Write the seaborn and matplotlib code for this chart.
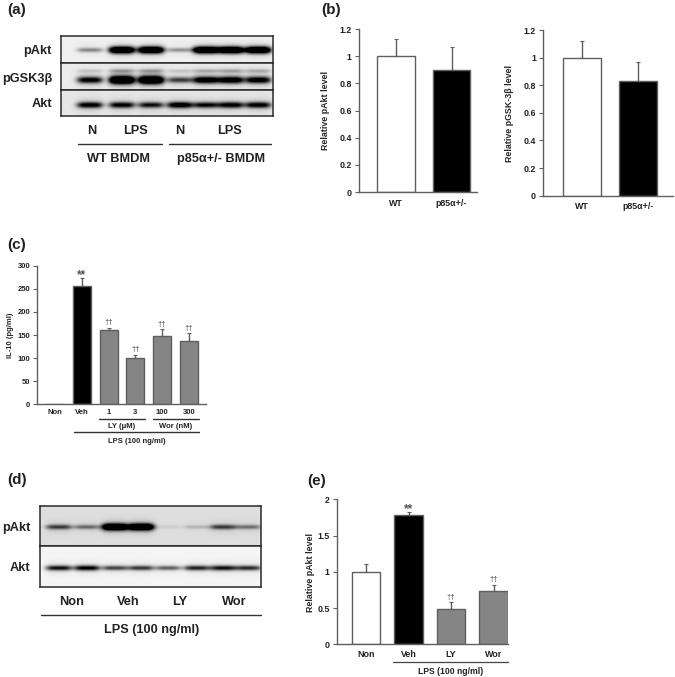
import numpy as np
import pandas as pd
import matplotlib
matplotlib.use("Agg")
import matplotlib.pyplot as plt
from matplotlib.lines import Line2D
import seaborn as sns

W, H = 675, 677
INK = "#222222"
EDGE = "#5f5f5f"
GREY = "#858585"

# bar panel data
b_names = ["WT", "p85α+/-"]
pakt_vals = [1.0, 0.90]
pakt_errs = [0.13, 0.17]
pgsk_vals = [1.0, 0.83]
pgsk_errs = [0.12, 0.135]
b_colors = ["white", "black"]

c_names = ["Non", "Veh", "1", "3", "100", "300"]
c_vals = [0, 255, 160, 101, 148, 138]
c_errs = [0, 19, 6, 6, 14, 16]
c_marks = ["", "**", "††", "††", "††", "††"]
c_colors = ["white", "black", GREY, GREY, GREY, GREY]

e_names = ["Non", "Veh", "LY", "Wor"]
e_vals = [1.0, 1.78, 0.49, 0.74]
e_errs = [0.11, 0.05, 0.09, 0.08]
e_marks = ["", "**", "††", "††"]
e_colors = ["white", "black", GREY, GREY]

# blot band strengths per lane
a_lanes = [90, 122, 151, 180, 206, 231, 258]
a_pakt = [0.25, 1.0, 1.0, 0.22, 1.0, 1.0, 1.0]
a_pgsk = [0.6, 1.0, 1.0, 0.42, 0.7, 0.7, 0.65]
a_pgsk_upper = [0.08, 0.18, 0.18, 0.08, 0.14, 0.16, 0.14]
a_akt = [0.6, 0.58, 0.52, 0.65, 0.55, 0.6, 0.6]

d_lanes = [59, 87, 115, 141, 168, 197, 223, 248]
d_pakt = [0.4, 0.28, 1.0, 1.0, 0.04, 0.1, 0.4, 0.27]
d_akt = [0.55, 0.6, 0.42, 0.45, 0.35, 0.5, 0.55, 0.48]

sns.set_theme(style="ticks")
plt.rcParams["font.family"] = ["Liberation Sans", "DejaVu Sans"]
plt.rcParams["font.weight"] = "bold"
plt.rcParams["text.color"] = INK
plt.rcParams["xtick.labelcolor"] = INK
plt.rcParams["ytick.labelcolor"] = INK

fig = plt.figure(figsize=(W / 100, H / 100), dpi=100)


def axes_px(x0, y0, x1, y1):
    # y0 is the top of the box, all in reference pixels
    return fig.add_axes([x0 / W, 1 - y1 / H, (x1 - x0) / W, (y1 - y0) / H])


def label(x, y, s, size, **kw):
    kw.setdefault("ha", "center")
    fig.text(x / W, 1 - y / H, s, fontsize=size, va="center", **kw)


def rule(x0, x1, y, color="#333333", lw=1.0):
    fig.add_artist(Line2D([x0 / W, x1 / W], [1 - y / H, 1 - y / H], color=color, lw=lw))


def bars(box, first, step, names, vals, errs, colors, ymax, ticks, size, pad, ylab, ylab_xy, marks=None):
    left, top, right, bottom = box
    ax = axes_px(left, top, right, bottom)
    df = pd.DataFrame({"name": names, "val": vals})
    sns.barplot(data=df, x="name", y="val", hue="name", palette=colors, legend=False,
                width=0.67, edgecolor=EDGE, linewidth=1.0, errorbar=None, ax=ax)
    pos = np.arange(len(vals))
    keep = np.array(errs) > 0
    ax.errorbar(pos[keep], np.array(vals)[keep], yerr=[np.zeros(keep.sum()), np.array(errs)[keep]],
                fmt="none", ecolor=EDGE, elinewidth=1.0, capsize=1.3, capthick=0.8)
    ax.set_xlim((left - first) / step, (right - first) / step)
    ax.set_ylim(0, ymax)
    ax.set_yticks(ticks[0])
    ax.set_yticklabels(ticks[1], fontsize=size)
    ax.tick_params(axis="y", length=3, width=0.8, color=EDGE, pad=2)
    ax.tick_params(axis="x", length=0, pad=pad, labelsize=size)
    ax.set_xlabel("")
    ax.set_ylabel(ylab, fontsize=size, va="center", fontweight="bold")
    ax.yaxis.set_label_coords((ylab_xy[0] - left) / (right - left), (bottom - ylab_xy[1]) / (bottom - top))
    for s in ["top", "right"]:
        ax.spines[s].set_visible(False)
    for s in ["left", "bottom"]:
        ax.spines[s].set_color(EDGE)
        ax.spines[s].set_linewidth(1.0)
    if marks:
        for i, m in enumerate(marks):
            if m == "**":
                # the asterisks sit high in the glyph box, so they need less room
                ax.annotate(m, (i, vals[i] + errs[i]), xytext=(0, -2.5), textcoords="offset points",
                            ha="center", va="bottom", fontsize=8.5, color="#555555")
            elif m:
                ax.annotate(m, (i, vals[i] + errs[i]), xytext=(0, 1), textcoords="offset points",
                            ha="center", va="bottom", fontsize=5.5, fontweight="normal", color="#444444")
    return ax


def blot_row(box, lanes, groups, bg, half=13):
    # groups: (strengths, band y in px, thickness in px)
    left, top, right, bottom = box
    xs = np.arange(left, right) + 0.5
    ys = np.arange(top, bottom) + 0.5
    dark = np.zeros((len(ys), len(xs)))
    for strengths, yc, thick in groups:
        for lane, s in zip(lanes, strengths):
            across = np.exp(-((xs - lane) / half) ** 4)
            core = np.exp(-((ys - yc) / (thick * (0.6 + 0.5 * s))) ** 2)
            halo = np.exp(-((ys - yc) / (thick * 2.2)) ** 2)
            dark += s * np.outer(1.5 * core + 0.18 * halo, across)
    img = np.clip(bg - np.clip(dark, 0, 0.97), 0, 1)
    ax = axes_px(left, top, right, bottom)
    sns.heatmap(img, cmap="gray", vmin=0, vmax=1, cbar=False, xticklabels=False, yticklabels=False, ax=ax)
    for s in ax.spines.values():
        s.set_visible(True)
        s.set_color("#2a2a2a")
        s.set_linewidth(1.1)
    return ax


# panel letters
for x, y, s in [(17, 10, "(a)"), (331, 10, "(b)"), (17, 245, "(c)"), (17, 480, "(d)"), (317, 481, "(e)")]:
    label(x, y, s, 11)

# (a) blot
blot_row((61, 36, 273, 63), a_lanes, [(a_pakt, 50, 3)], 0.94)
blot_row((61, 63, 273, 90), a_lanes, [(a_pgsk_upper, 71, 3), (a_pgsk, 80, 3.6)], 0.92)
blot_row((61, 90, 273, 116), a_lanes, [(a_akt, 105, 3.3)], 0.9)
for y, s in [(51, "pAkt"), (79, "pGSK3β"), (104, "Akt")]:
    label(52, y, s, 9.2, ha="right")
for x, s in [(92, "N"), (136, "LPS"), (180, "N"), (230, "LPS")]:
    label(x, 131, s, 9.2)
rule(78, 162, 144)
rule(169, 271, 144)
label(119, 159, "WT BMDM", 9.2)
label(221, 159, "p85α+/- BMDM", 9.2)

# (b) bars
ticks_b = ([0, 0.2, 0.4, 0.6, 0.8, 1, 1.2], ["0", "0.2", "0.4", "0.6", "0.8", "1", "1.2"])
bars((358.7, 29, 477, 192), 396, 55.5, b_names, pakt_vals, pakt_errs, b_colors, 1.2, ticks_b, 6.4, 4.7,
     "Relative pAkt level", (325, 110))
bars((543, 30, 673, 195.7), 582, 56, b_names, pgsk_vals, pgsk_errs, b_colors, 1.2, ticks_b, 6.4, 4.7,
     "Relative pGSK-3β level", (510, 113))

# (c) bars
ticks_c = ([0, 50, 100, 150, 200, 250, 300], ["0", "50", "100", "150", "200", "250", "300"])
bars((37.3, 265.7, 206, 404.3), 55, 26.8, c_names, c_vals, c_errs, c_colors, 300, ticks_c, 5.5, 3.6,
     "IL-10 (pg/ml)", (10, 335), c_marks)
rule(99, 145, 418.7)
rule(153, 199, 418.7)
label(122, 426.7, "LY (μM)", 5.5)
label(176, 426.7, "Wor (nM)", 5.5)
rule(74, 199, 432.3)
label(137, 441.7, "LPS (100 ng/ml)", 5.5)

# (d) blot
blot_row((40, 506, 261, 546), d_lanes, [(d_pakt, 527, 3.0)], 0.87)
blot_row((40, 546, 261, 587), d_lanes, [(d_akt, 568, 2.9)], 0.96)
label(30.7, 527.7, "pAkt", 9.2, ha="right")
label(30.7, 567.7, "Akt", 9.2, ha="right")
for x, s in [(72, "Non"), (128, "Veh"), (180, "LY"), (234, "Wor")]:
    label(x, 602, s, 9.2)
rule(41, 261, 615)
label(152, 630, "LPS (100 ng/ml)", 9.2)

# (e) bars
ticks_e = ([0, 0.5, 1, 1.5, 2], ["0", "0.5", "1", "1.5", "2"])
bars((336.7, 499.3, 508, 644.3), 366, 42.5, e_names, e_vals, e_errs, e_colors, 2, ticks_e, 6.4, 4.3,
     "Relative pAkt level", (310.7, 572), e_marks)
rule(393, 508, 661.7, color="#444444", lw=0.9)
label(450.7, 671, "LPS (100 ng/ml)", 6.2)

fig.savefig("out.png", dpi=100)
